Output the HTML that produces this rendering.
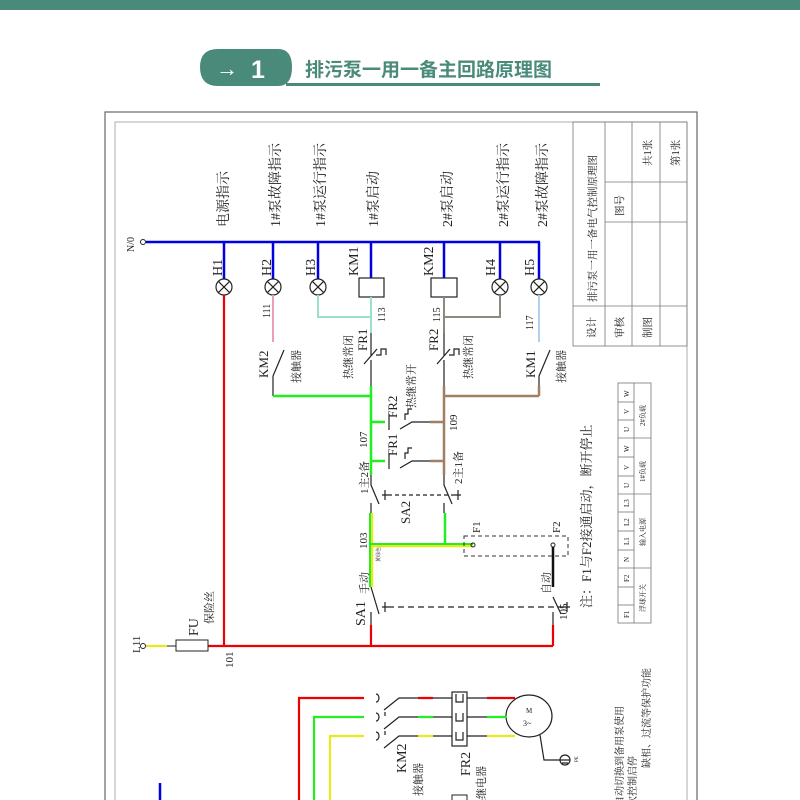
<!DOCTYPE html>
<html><head><meta charset="utf-8"><style>
html,body{margin:0;padding:0;background:#fff;width:800px;height:800px;overflow:hidden}
svg{display:block}
text{font-family:"Liberation Serif","Noto Serif CJK SC",serif;fill:#222}
.s{font-family:"Liberation Sans","Noto Sans CJK SC",sans-serif}
</style></head><body>
<svg width="800" height="800" viewBox="0 0 800 800" xmlns="http://www.w3.org/2000/svg">
<rect x="0" y="0" width="800" height="10" fill="#4a8a7a"/>
<path d="M218,49 H278 Q292,49 292,67 Q292,86 278,86 H218 Q200,86 200,67 Q200,49 218,49Z" fill="#4a8a7a"/>
<rect x="286" y="83" width="314" height="3" fill="#4a8a7a"/>
<text x="216" y="76" class="s" style="font-size:22px;fill:#fff;font-weight:bold">→</text>
<text x="251" y="78" class="s" style="font-size:25px;fill:#fff;font-weight:bold">1</text>
<text x="305" y="76" class="s" style="font-size:19px;fill:#4a8a7a;font-weight:bold">排污泵一用一备主回路原理图</text>

<rect x="105" y="112" width="592" height="700" fill="none" stroke="#666" stroke-width="1.2"/>
<rect x="115" y="122" width="572" height="690" fill="none" stroke="#999" stroke-width="0.8"/>

<g stroke="#777" stroke-width="0.8" fill="none">
<rect x="573" y="122" width="114" height="224"/>
<line x1="605" y1="122" x2="605" y2="346"/>
<line x1="632" y1="122" x2="632" y2="346"/>
<line x1="660" y1="122" x2="660" y2="346"/>
<line x1="605" y1="182" x2="687" y2="182"/>
<line x1="605" y1="222" x2="687" y2="222"/>
<line x1="573" y1="306" x2="687" y2="306"/>
</g>
<g style="font-size:10.5px">
<text transform="translate(596,302) rotate(-90)">排污泵一用一备电气控制原理图</text>
<text transform="translate(623,216) rotate(-90)">图号</text>
<text transform="translate(651,166) rotate(-90)">共1张</text>
<text transform="translate(679,166) rotate(-90)">第1张</text>
<text transform="translate(595,338) rotate(-90)">设计</text>
<text transform="translate(623,338) rotate(-90)">审核</text>
<text transform="translate(651,338) rotate(-90)">制图</text>
</g>

<g stroke="#777" stroke-width="0.8" fill="none">
<rect x="618" y="383" width="33" height="240"/>
<line x1="634" y1="383" x2="634" y2="623"/>
<line x1="618" y1="402" x2="634" y2="402"/><line x1="618" y1="420" x2="634" y2="420"/>
<line x1="618" y1="438" x2="651" y2="438"/><line x1="618" y1="457" x2="634" y2="457"/>
<line x1="618" y1="476" x2="634" y2="476"/><line x1="618" y1="494" x2="651" y2="494"/>
<line x1="618" y1="512" x2="634" y2="512"/><line x1="618" y1="531" x2="634" y2="531"/>
<line x1="618" y1="550" x2="634" y2="550"/><line x1="618" y1="568" x2="651" y2="568"/>
<line x1="618" y1="587" x2="634" y2="587"/><line x1="618" y1="605" x2="634" y2="605"/>
</g>
<g style="font-size:7px">
<text transform="translate(629,397) rotate(-90)">W</text><text transform="translate(629,414) rotate(-90)">V</text><text transform="translate(629,432) rotate(-90)">U</text>
<text transform="translate(629,452) rotate(-90)">W</text><text transform="translate(629,470) rotate(-90)">V</text><text transform="translate(629,488) rotate(-90)">U</text>
<text transform="translate(629,507) rotate(-90)">L3</text><text transform="translate(629,526) rotate(-90)">L2</text><text transform="translate(629,545) rotate(-90)">L1</text>
<text transform="translate(629,562) rotate(-90)">N</text><text transform="translate(629,582) rotate(-90)">F2</text><text transform="translate(629,618) rotate(-90)">F1</text>
<text transform="translate(645,426) rotate(-90)">2#负载</text><text transform="translate(645,482) rotate(-90)">1#负载</text>
<text transform="translate(645,546) rotate(-90)">输入电源</text><text transform="translate(645,612) rotate(-90)">浮球开关</text>
</g>

<g style="font-size:14px">
<text transform="translate(228,227) rotate(-90)">电源指示</text>
<text transform="translate(280,227) rotate(-90)">1#泵故障指示</text>
<text transform="translate(325,227) rotate(-90)">1#泵运行指示</text>
<text transform="translate(378,227) rotate(-90)">1#泵启动</text>
<text transform="translate(452,227) rotate(-90)">2#泵启动</text>
<text transform="translate(508,227) rotate(-90)">2#泵运行指示</text>
<text transform="translate(547,227) rotate(-90)">2#泵故障指示</text>
<text transform="translate(222,276) rotate(-90)">H1</text>
<text transform="translate(271,276) rotate(-90)">H2</text>
<text transform="translate(315,276) rotate(-90)">H3</text>
<text transform="translate(358,276) rotate(-90)">KM1</text>
<text transform="translate(433,276) rotate(-90)">KM2</text>
<text transform="translate(495,276) rotate(-90)">H4</text>
<text transform="translate(534,276) rotate(-90)">H5</text>
</g>
<text transform="translate(134,252) rotate(-90)" style="font-size:10px">N/0</text>

<line x1="146" y1="242" x2="540" y2="242" stroke="#0000e0" stroke-width="2.5"/>
<circle cx="143" cy="242" r="2.5" fill="#fff" stroke="#222"/>
<g stroke="#0000e0" stroke-width="2.5">
<line x1="224" y1="242" x2="224" y2="279"/><line x1="273" y1="242" x2="273" y2="279"/>
<line x1="318" y1="242" x2="318" y2="279"/><line x1="371" y1="242" x2="371" y2="278"/>
<line x1="444" y1="242" x2="444" y2="278"/><line x1="500" y1="242" x2="500" y2="279"/>
<line x1="539" y1="242" x2="539" y2="279"/>
</g>
<g stroke="#222" stroke-width="1.2" fill="#fff">
<circle cx="224" cy="287" r="8"/><circle cx="273" cy="287" r="8"/><circle cx="318" cy="287" r="8"/>
<circle cx="500" cy="287" r="8"/><circle cx="539" cy="287" r="8"/>
<rect x="359" y="278" width="25" height="19"/><rect x="431" y="278" width="26" height="19"/>
</g>
<g stroke="#222" stroke-width="1.2">
<path d="M218.4,281.4l11.2,11.2M229.6,281.4l-11.2,11.2"/>
<path d="M267.4,281.4l11.2,11.2M278.6,281.4l-11.2,11.2"/>
<path d="M312.4,281.4l11.2,11.2M323.6,281.4l-11.2,11.2"/>
<path d="M494.4,281.4l11.2,11.2M505.6,281.4l-11.2,11.2"/>
<path d="M533.4,281.4l11.2,11.2M544.6,281.4l-11.2,11.2"/>
</g>

<line x1="224" y1="295" x2="224" y2="646" stroke="#e00" stroke-width="2.2"/>
<line x1="273" y1="295" x2="273" y2="342" stroke="#e8a0b8" stroke-width="2"/>
<path d="M318,295V317H371M371,297V333" stroke="#9de0c8" stroke-width="2" fill="none"/>
<path d="M444,297V333M444,317H500V295" stroke="#8a8a80" stroke-width="2" fill="none"/>
<line x1="539" y1="295" x2="539" y2="342" stroke="#b0d0ec" stroke-width="2"/>

<g stroke="#222" stroke-width="1.2" fill="none">
<path d="M273,376V396M273,376L284,350"/>
<path d="M539,376V396M539,376L550,350"/>
<path d="M371,333V356M364,364L377,349M371,360V386M376,355h5v-6h5v6"/>
<path d="M444,333V356M437,364L450,349M444,360V386M449,355h5v-6h5v6"/>
</g>
<g style="font-size:13px">
<text transform="translate(268,378) rotate(-90)">KM2</text>
<text transform="translate(535,378) rotate(-90)">KM1</text>
<text transform="translate(367,351) rotate(-90)">FR1</text>
<text transform="translate(438,351) rotate(-90)">FR2</text>
</g>
<g style="font-size:11px">
<text transform="translate(300,383) rotate(-90)">接触器</text>
<text transform="translate(565,383) rotate(-90)">接触器</text>
<text transform="translate(352,379) rotate(-90)">热继常闭</text>
<text transform="translate(472,379) rotate(-90)">热继常闭</text>
<text transform="translate(415,408) rotate(-90)">热继常开</text>
</g>
<g style="font-size:10px">
<text transform="translate(270,318) rotate(-90)">111</text>
<text transform="translate(385,322) rotate(-90)">113</text>
<text transform="translate(440,322) rotate(-90)">115</text>
<text transform="translate(533,330) rotate(-90)">117</text>
</g>

<path d="M273,396H371M371,386V475M371,422H385M371,461H385" stroke="#22ee22" stroke-width="2.5" fill="none"/>
<path d="M444,386V475M444,396H539M430,422H444M430,461H444" stroke="#a08060" stroke-width="2.5" fill="none"/>
<line x1="539" y1="386" x2="539" y2="396" stroke="#a08060" stroke-width="2.5"/>
<g stroke="#222" stroke-width="1.2" fill="none">
<path d="M389,414V430M400,429L412,422H430M405,420V414h3v-5h4"/>
<path d="M389,453V469M400,468L412,461H430M405,459V453h3v-5h4"/>
<path d="M371,475V485L379,504M371,503V513M382,495H388M385,490V500"/>
<path d="M444,475V485L452,504M444,503V513M455,495H461M458,490V500"/>
<path d="M388,495H458" stroke-dasharray="4,3"/>
</g>
<g style="font-size:13px">
<text transform="translate(397,418) rotate(-90)">FR2</text>
<text transform="translate(397,456) rotate(-90)">FR1</text>
<text transform="translate(410,524) rotate(-90)">SA2</text>
</g>
<g style="font-size:11px">
<text transform="translate(367,448) rotate(-90)">107</text>
<text transform="translate(457,431) rotate(-90)">109</text>
<text transform="translate(368,494) rotate(-90)">1主2备</text>
<text transform="translate(462,484) rotate(-90)">2主1备</text>
<text transform="translate(367,549) rotate(-90)">103</text>
<text transform="translate(368,594) rotate(-90)">手动</text>
<text transform="translate(550,594) rotate(-90)">自动</text>
<text transform="translate(567,620) rotate(-90)">105</text>
<text transform="translate(480,533) rotate(-90)">F1</text>
<text transform="translate(560,533) rotate(-90)">F2</text>
</g>
<text transform="translate(380,562) rotate(-90)" style="font-size:5px">黄绿色</text>

<line x1="372" y1="513" x2="372" y2="587" stroke="#e8e820" stroke-width="2.5"/>
<line x1="370" y1="513" x2="370" y2="587" stroke="#22ee22" stroke-width="2"/>
<line x1="371" y1="546" x2="473" y2="546" stroke="#e8e820" stroke-width="2.5"/>
<line x1="371" y1="544" x2="473" y2="544" stroke="#22ee22" stroke-width="2"/>
<line x1="445" y1="513" x2="445" y2="545" stroke="#22ee22" stroke-width="2.5"/>
<rect x="464" y="536" width="104" height="20" fill="none" stroke="#333" stroke-width="1" stroke-dasharray="4,3"/>
<circle cx="473" cy="545" r="2" fill="none" stroke="#222"/>
<circle cx="553" cy="545" r="2" fill="none" stroke="#222"/>
<line x1="553" y1="547" x2="553" y2="587" stroke="#111" stroke-width="2.5"/>
<g stroke="#222" stroke-width="1.2" fill="none">
<path d="M371,587L379,614M371,612V625M382,607H388M385,602V612"/>
<path d="M553,597L561,614M553,612V625M564,607H570M567,602V612"/>
<path d="M388,607H564" stroke-dasharray="6,4"/>
</g>
<text transform="translate(365,626) rotate(-90)" style="font-size:14px">SA1</text>
<path d="M371,625V646M553,625V646M208,646H553" stroke="#e00" stroke-width="2.2" fill="none"/>
<circle cx="143" cy="646" r="2.5" fill="#fff" stroke="#222"/>
<line x1="146" y1="646" x2="167" y2="646" stroke="#e8e820" stroke-width="2.2"/>
<line x1="167" y1="646" x2="176" y2="646" stroke="#222" stroke-width="1"/>
<rect x="176" y="640" width="32" height="11" fill="#fff" stroke="#222" stroke-width="1"/>
<text transform="translate(198,636) rotate(-90)" style="font-size:14px">FU</text>
<text transform="translate(213,624) rotate(-90)" style="font-size:11px">保险丝</text>
<text transform="translate(140,653) rotate(-90)" style="font-size:11px">L11</text>
<text transform="translate(233,668) rotate(-90)" style="font-size:11px">101</text>
<text transform="translate(591,608) rotate(-90)" style="font-size:13px">注：F1与F2接通启动，断开停止</text>

<path d="M299,800V698H364" stroke="#e00" stroke-width="2.2" fill="none"/>
<path d="M314,800V717H364" stroke="#22ee22" stroke-width="2.2" fill="none"/>
<path d="M330,800V736H364" stroke="#e8e820" stroke-width="2.2" fill="none"/>
<g stroke="#222" stroke-width="1.2" fill="none">
<path d="M376,694a3,4 0 0 1 0,8M376,713a3,4 0 0 1 0,8M376,732a3,4 0 0 1 0,8"/>
<path d="M384,710L399,698H418M384,729L399,717H418M384,748L399,736H418"/>
<path d="M385,712v4M385,731v4"/>
<path d="M433,698H452M433,717H452M433,736H452M467,698H487M467,717H487M467,736H487"/>
<rect x="452" y="692" width="15" height="54"/>
<path d="M456,694v8h7v-8M456,713v8h7v-8M456,732v8h7v-8"/>
<ellipse cx="529" cy="716" rx="23" ry="21"/>
<path d="M540,735L544,760H560"/>
<circle cx="565" cy="760" r="5"/>
<path d="M560,760h10M562,763h6"/>
</g>
<path d="M418,698H433M487,698H515" stroke="#e00" stroke-width="2.2"/>
<path d="M418,717H433M487,717H507" stroke="#22ee22" stroke-width="2.2"/>
<path d="M418,736H433M487,736H515" stroke="#e8e820" stroke-width="2.2"/>
<text x="526" y="713" style="font-size:7px">M</text>
<text x="523" y="726" style="font-size:8px">3~</text>
<text transform="translate(578,762) rotate(-90)" style="font-size:5px">PE</text>
<text transform="translate(406,773) rotate(-90)" style="font-size:14px">KM2</text>
<text transform="translate(422,796) rotate(-90)" style="font-size:11px">接触器</text>
<text transform="translate(470,776) rotate(-90)" style="font-size:14px">FR2</text>
<text transform="translate(485,810) rotate(-90)" style="font-size:11px">热继电器</text>
<line x1="160" y1="783" x2="160" y2="800" stroke="#0000e0" stroke-width="2.5"/>
<rect x="452" y="795" width="15" height="10" fill="none" stroke="#222"/>
<g style="font-size:10px">
<text transform="translate(623,806) rotate(-90)">自动切换到备用泵使用</text>
<text transform="translate(636,806) rotate(-90)">次控制启停</text>
<text transform="translate(650,768) rotate(-90)">缺相、过流等保护功能</text>
</g>
</svg>
</body></html>
